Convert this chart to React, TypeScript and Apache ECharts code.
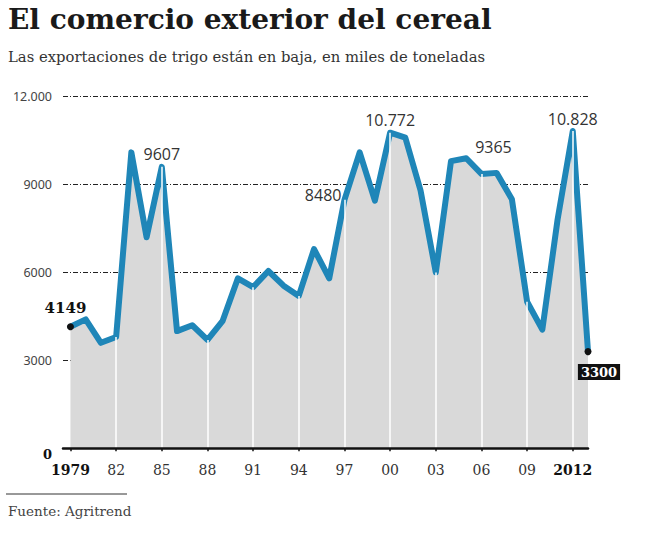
import React from 'react';
import * as echarts from 'echarts';

const years: number[] = [];
for (let y = 1979; y <= 2013; y++) years.push(y);

// miles de toneladas
const exportsTrigo = [
  4149, 4400, 3600, 3800, 10100, 7200, 9607, 4000, 4200, 3700,
  4350, 5800, 5500, 6050, 5550, 5200, 6800, 5800, 8480, 10100,
  8450, 10772, 10600, 8800, 6000, 9800, 9900, 9365, 9400, 8500,
  5000, 4050, 7800, 10828, 3300
];

const tickYears = [1979, 1982, 1985, 1988, 1991, 1994, 1997, 2000, 2003, 2006, 2009, 2012];
const boldYears = [1979, 2012];

const BLUE = '#1f86b8';
const SERIF = '"DejaVu Serif", serif';
const SANS = '"Open Sans", sans-serif';

const fmtNum = (v: number) =>
  v >= 10000 ? `${Math.floor(v / 1000)}.${String(v % 1000).padStart(3, '0')}` : String(v);

const valueOf = (yr: number) => exportsTrigo[years.indexOf(yr)];

const labelFor = (yr: number): any => {
  const base = { show: true, fontFamily: SANS, fontSize: 16, color: '#333', formatter: (p: any) => fmtNum(p.value[1]) };
  switch (yr) {
    case 1979:
      return { ...base, position: 'top', distance: 8, offset: [-5, 0], fontFamily: SERIF, fontWeight: 'bold', fontSize: 15, color: '#111' };
    case 1985:
      return { ...base, position: 'top', distance: 5 };
    case 1997:
      return { ...base, position: 'left', distance: 3, offset: [0, -5] };
    case 2000:
      return { ...base, position: 'top', distance: 5 };
    case 2006:
      return { ...base, position: 'top', distance: 19, offset: [12, 0] };
    case 2012:
      return { ...base, position: 'top', distance: 4 };
    case 2013:
      return {
        ...base, position: 'bottom', distance: 9, offset: [11, 0],
        fontFamily: SERIF, fontWeight: 'bold', fontSize: 13, color: '#fff',
        backgroundColor: '#111', padding: [2, 3, 1, 3]
      };
    default:
      return undefined;
  }
};

const App: React.FC = () => {
  const chartRef = React.useRef<HTMLDivElement>(null);

  React.useEffect(() => {
    if (!chartRef.current) return;
    const chart = echarts.init(chartRef.current, undefined, { renderer: 'svg' });

    const lineData = years.map((yr, i) => {
      const label = labelFor(yr);
      const endpoint = yr === 1979 || yr === 2013;
      return {
        value: [yr, exportsTrigo[i]],
        symbolSize: endpoint ? 7 : 0,
        itemStyle: { color: '#111' },
        label: label || { show: false }
      };
    });

    chart.setOption({
      animation: false,
      graphic: [
        {
          type: 'text', left: 8, top: 5,
          style: { text: 'El comercio exterior del cereal', font: `bold 28px ${SERIF}`, fill: '#1a1a1a' }
        },
        {
          type: 'text', left: 8, top: 49,
          style: { text: 'Las exportaciones de trigo están en baja, en miles de toneladas', font: `14.8px ${SERIF}`, fill: '#333' }
        },
        {
          type: 'line', shape: { x1: 6, y1: 494, x2: 127, y2: 494 },
          style: { stroke: '#333', lineWidth: 1 }
        },
        {
          type: 'text', left: 8, top: 504,
          style: { text: 'Fuente: Agritrend', font: `13.5px ${SERIF}`, fill: '#444' }
        }
      ],
      grid: { left: 63, right: 57, top: 96.7, bottom: 84.7, containLabel: false },
      xAxis: {
        type: 'value',
        min: 1978.51,
        max: 2013,
        z: 5,
        axisLine: { show: true, lineStyle: { color: '#111', width: 2.5 } },
        axisTick: { show: true, customValues: tickYears, length: 3, lineStyle: { color: '#111', width: 1.5 } },
        splitLine: { show: false },
        axisLabel: {
          customValues: tickYears,
          margin: 15,
          fontFamily: SERIF,
          fontSize: 14,
          color: '#333',
          formatter: (v: number) => (boldYears.includes(v) ? `{b|${v}}` : String(v).slice(2)),
          rich: { b: { fontFamily: SERIF, fontSize: 14, fontWeight: 'bold', color: '#111' } }
        }
      },
      yAxis: {
        type: 'value',
        min: 0,
        max: 12000,
        interval: 3000,
        axisLine: { show: false },
        axisTick: { show: false },
        axisLabel: {
          margin: 11,
          fontFamily: '"Noto Sans", sans-serif',
          fontSize: 12.5,
          color: '#444',
          formatter: (v: number) => (v === 0 ? '{z|0}' : fmtNum(v)),
          rich: { z: { fontFamily: SERIF, fontWeight: 'bold', fontSize: 13, color: '#111', padding: [12, 0, 0, 0] } }
        },
        splitLine: { show: true, lineStyle: { color: '#222', width: 1, type: [5, 2, 1, 2] } }
      },
      series: [
        {
          type: 'line',
          data: years.map((yr, i) => [yr, exportsTrigo[i]]),
          symbol: 'none',
          lineStyle: { width: 0 },
          areaStyle: { color: '#d9d9d9', opacity: 1 },
          z: 1,
          silent: true,
          markLine: {
            silent: true,
            symbol: ['none', 'none'],
            label: { show: false },
            lineStyle: { color: '#fff', width: 1.5, type: 'solid' },
            data: tickYears.filter(y => y !== 1979).map(yr => [
              { coord: [yr, 0] },
              { coord: [yr, valueOf(yr)] }
            ])
          }
        },
        {
          type: 'line',
          data: lineData,
          symbol: 'circle',
          showSymbol: true,
          lineStyle: { color: BLUE, width: 6, join: 'round', cap: 'round' },
          z: 3
        }
      ]
    });

    return () => {
      chart.dispose();
    };
  }, []);

  return (
    <div
      ref={chartRef}
      style={{ position: 'absolute', left: 0, top: 0, width: 645, height: 533, background: '#fff' }}
    />
  );
};

export default App;
